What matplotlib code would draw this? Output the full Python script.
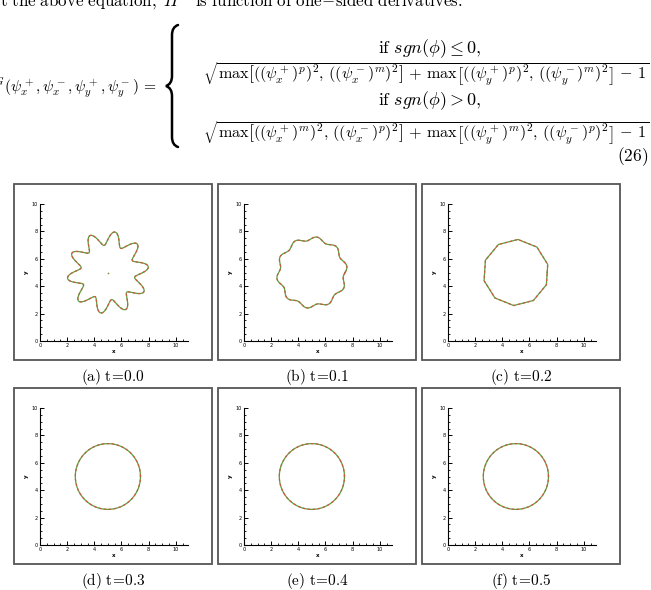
import numpy as np
import matplotlib
matplotlib.use('Agg')
import matplotlib.pyplot as plt
from matplotlib.patches import Rectangle, PathPatch
from matplotlib.path import Path

plt.rcParams['mathtext.fontset'] = 'cm'
plt.rcParams['font.family'] = 'DejaVu Sans'

# data
times = [0.0, 0.1, 0.2, 0.3, 0.4, 0.5]
letters = ['a', 'b', 'c', 'd', 'e', 'f']
shape = ['wave', 'wave', 'polygon', 'circle', 'circle', 'circle']
radius = [2.5, 2.47, 2.42, 2.4, 2.4, 2.4]
amplitude = [0.5, 0.14, 0.0, 0.0, 0.0, 0.0]
phase_deg = [8, 10, 14, 0, 0, 0]
n_lobes = 10
center = (5.0, 5.0)
xticks = [0, 2, 4, 6, 8, 10]
yticks = [0, 2, 4, 6, 8, 10]

W, H = 651, 590
fig = plt.figure(figsize=[W/100, H/100], dpi=100)


def fx(px):
    return px/W


def fy(py):
    return 1-py/H


def contour_xy(i):
    th = np.linspace(0, 2*np.pi, 1441)
    ph = np.radians(phase_deg[i])
    if shape[i] == 'wave':
        r = radius[i]+amplitude[i]*np.cos(n_lobes*(th-ph))
    elif shape[i] == 'polygon':
        seg = 2*np.pi/n_lobes
        r = radius[i]*np.cos(seg/2)/np.cos(np.mod(th-ph, seg)-seg/2)
    else:
        r = radius[i]*np.ones_like(th)
    return center[0]+r*np.cos(th), center[1]+r*np.sin(th)


fs = 11.6
# text above the figure
fig.text(fx(0), fy(6), r'$\mathrm{t\ the\ above\ equation,}\ H^G\ \mathrm{is\ function\ of\ one\!-\!sided\ derivatives.}$',
         fontsize=12.2, ha='left', va='baseline')
fig.text(fx(157), fy(88), r'$H^G(\psi_x^+,\psi_x^-,\psi_y^+,\psi_y^-)\,=$',
         fontsize=11.2, ha='right', va='center')

# curly brace drawn as a path
by0, by1 = 25, 147
bm = (by0+by1)/2
verts = [(178, by0), (172, by0+2), (172, by0+10), (172, bm-10), (172, bm-2), (166, bm),
         (172, bm+2), (172, bm+10), (172, by1-10), (172, by1-2), (178, by1)]
verts = [(fx(a), fy(b)) for a, b in verts]
codes = [Path.MOVETO, Path.CURVE3, Path.CURVE3, Path.LINETO, Path.CURVE3, Path.CURVE3,
         Path.CURVE3, Path.CURVE3, Path.LINETO, Path.CURVE3, Path.CURVE3]
fig.patches.append(PathPatch(Path(verts, codes), transform=fig.transFigure, fill=False,
                             edgecolor='black', linewidth=1.8, capstyle='round'))

fig.text(fx(430), fy(49), r'$\mathrm{if}\ sgn(\phi)\leq 0,$', fontsize=13, ha='center', va='center')
fig.text(fx(203), fy(74),
         r'$\sqrt{\max\left[((\psi_x^+)^p)^2,\,((\psi_x^-)^m)^2\right]\,+\,\max\left[((\psi_y^+)^p)^2,\,((\psi_y^-)^m)^2\right]\,-\,1}$',
         fontsize=fs, ha='left', va='center')
fig.text(fx(430), fy(101), r'$\mathrm{if}\ sgn(\phi)>0,$', fontsize=13, ha='center', va='center')
fig.text(fx(203), fy(133),
         r'$\sqrt{\max\left[((\psi_x^+)^m)^2,\,((\psi_x^-)^p)^2\right]\,+\,\max\left[((\psi_y^+)^m)^2,\,((\psi_y^-)^p)^2\right]\,-\,1}$',
         fontsize=fs, ha='left', va='center')
fig.text(fx(648), fy(157), r'$\mathrm{(26)}$', fontsize=12.5, ha='right', va='center')

for i in range(6):
    row, col = i//3, i % 3
    dx, dy = 204*col, 204*row
    # frame
    fig.patches.append(Rectangle((fx(14+dx), fy(360+dy)), fx(198), 176/H, transform=fig.transFigure,
                                 fill=False, edgecolor='#555555', linewidth=1.3))
    ax = fig.add_axes([fx(40+dx), fy(341+dy), fx(148), 137/H])
    x, y = contour_xy(i)
    ax.plot(x, y, color='#5aa040', lw=0.9)
    ax.plot(x, y, color='#d05a40', lw=0.9, dashes=(2, 2))
    if i == 0:
        ax.plot(center[0], center[1], 'o', color='#7a8a40', ms=1.2, mec='none')
    ax.set_xlim(0, 10.9)
    ax.set_ylim(0, 10)
    ax.set_xticks(xticks)
    ax.set_yticks(yticks)
    ax.set_xticks(np.arange(0, 10.9, 0.5), minor=True)
    ax.set_yticks(np.arange(0, 10.01, 0.5), minor=True)
    for s in ['top', 'right']:
        ax.spines[s].set_visible(False)
    for s in ['left', 'bottom']:
        ax.spines[s].set_linewidth(0.8)
    ax.tick_params(which='major', direction='in', length=3, width=0.7, labelsize=3.5, pad=1.5)
    ax.tick_params(which='minor', direction='in', length=1.6, width=0.6)
    ax.set_xlabel('x', fontsize=4, fontweight='bold', labelpad=1)
    ax.set_ylabel('y', fontsize=4, fontweight='bold', labelpad=2)
    ax.patch.set_alpha(0)
    fig.text(fx(113+dx), fy(377+dy), r'$\mathrm{(%s)\ t\!=\!%.1f}$' % (letters[i], times[i]),
             fontsize=11, ha='center', va='center')

plt.savefig('out.png', dpi=100)
